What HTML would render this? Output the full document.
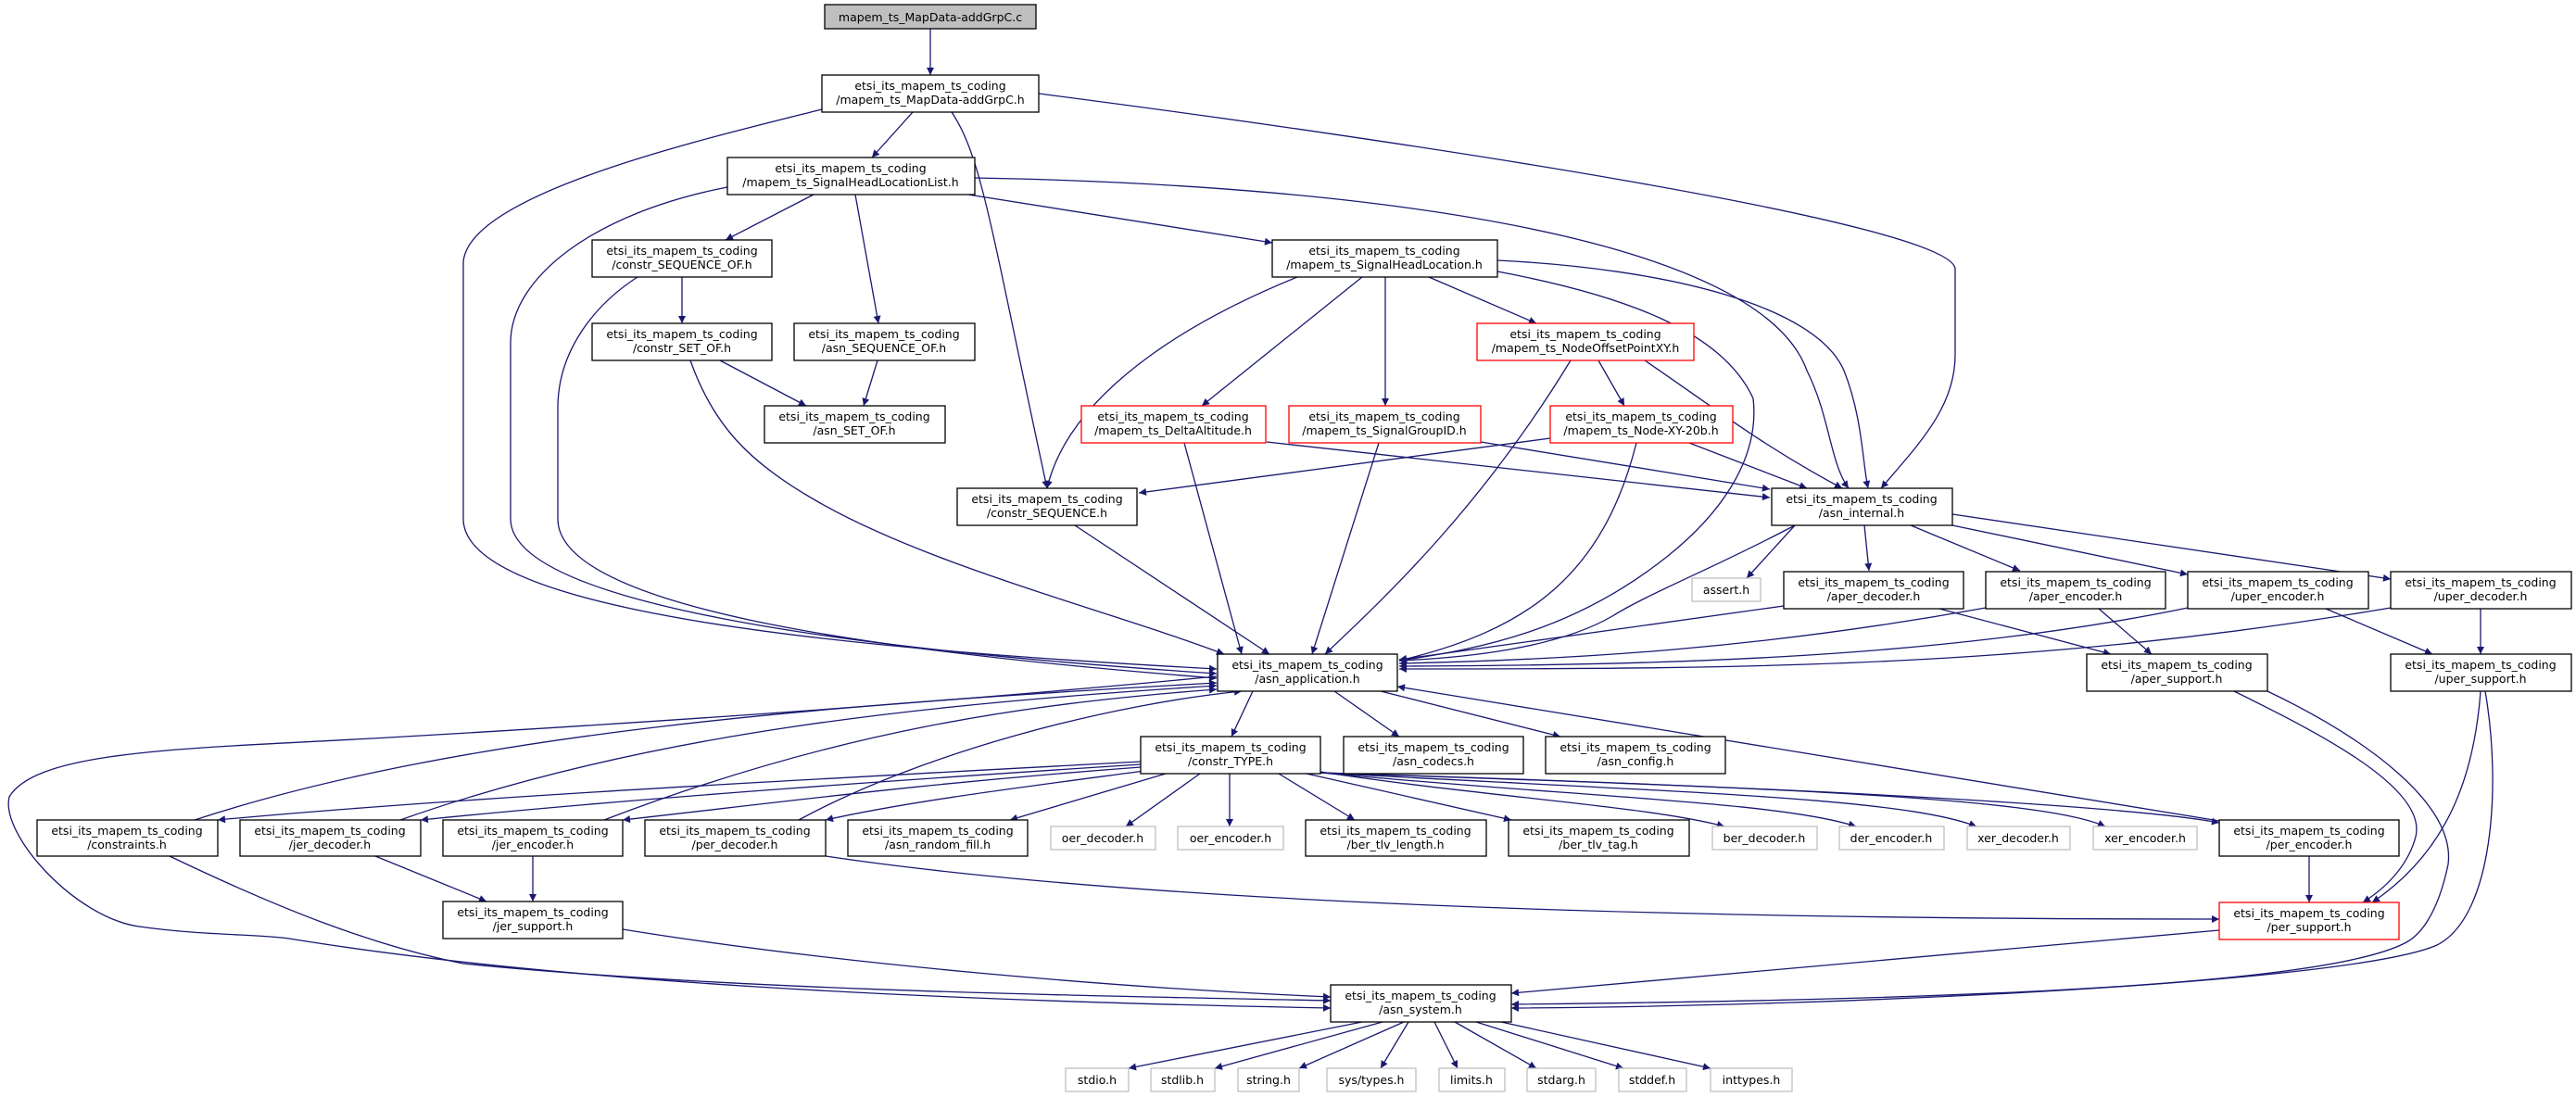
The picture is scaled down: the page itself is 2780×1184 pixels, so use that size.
<!DOCTYPE html>
<html><head><meta charset="utf-8"><style>
html,body{margin:0;padding:0;background:#fff}
svg{display:block}
text{font-family:"DejaVu Sans","Liberation Sans",sans-serif;font-size:12.5px;fill:#000;text-anchor:middle}
.e{fill:none;stroke:#191970;stroke-width:1.3}
.n{fill:#fff;stroke:#000;stroke-width:1.3}
.g{fill:#fff;stroke:#bfbfbf;stroke-width:1.3}
.r{fill:#fff;stroke:#ff0000;stroke-width:1.3}
</style></head><body>
<svg width="2780" height="1184" viewBox="0 0 2780 1184" xmlns="http://www.w3.org/2000/svg">
<defs><marker id="a" viewBox="0 0 10 10" refX="10" refY="5" markerWidth="11" markerHeight="8" markerUnits="userSpaceOnUse" orient="auto"><path d="M0,0L10,5L0,10z" fill="#191970"/></marker></defs>
<g class="e" marker-end="url(#a)">
<path d="M1004,31L1004,81"/>
<path d="M985,121L941,170"/>
<path d="M1027,121C1060,170 1070,250 1130,527"/>
<path d="M887,118C760,150 500,210 500,285L500,560C500,660 900,700 1313,722"/>
<path d="M1121,101C1500,150 2104,240 2110,290L2110,383C2110,440 2070,480 2030,527"/>
<path d="M878,210L783,259"/>
<path d="M923,210L948,349"/>
<path d="M1045,210L1373,262"/>
<path d="M1052,192C1500,200 1900,260 1950,400C1975,450 1975,500 1995,527"/>
<path d="M785,202C640,230 551,300 551,370L551,560C551,650 900,700 1313,727"/>
<path d="M736,299L736,349"/>
<path d="M688,299C640,330 602,380 602,440L602,560C602,650 900,700 1313,732"/>
<path d="M745,389C770,460 810,500 880,540C1000,610 1200,660 1321,706"/>
<path d="M777,389L870,438"/>
<path d="M947,389L932,438"/>
<path d="M1400,299C1250,360 1150,440 1130,527"/>
<path d="M1470,299L1297,438"/>
<path d="M1495,299L1495,438"/>
<path d="M1542,299L1658,349"/>
<path d="M1616,281C1800,290 1960,330 1990,400C2010,450 2010,500 2016,527"/>
<path d="M1616,293C1760,320 1860,360 1892,430C1900,500 1850,560 1800,600C1700,680 1600,700 1510,713"/>
<path d="M1725,389L1753,438"/>
<path d="M1775,389C1850,440 1900,480 1988,527"/>
<path d="M1695,389C1600,545 1500,640 1430,706"/>
<path d="M1673,473L1229,532"/>
<path d="M1823,478L1950,527"/>
<path d="M1766,478C1730,620 1650,680 1510,713"/>
<path d="M1367,477L1910,537"/>
<path d="M1278,478L1340,706"/>
<path d="M1598,477L1910,528"/>
<path d="M1488,478L1416,706"/>
<path d="M1160,567L1370,706"/>
<path d="M1937,567L1885,624"/>
<path d="M2012,567L2017,616"/>
<path d="M2062,567L2180,616"/>
<path d="M2107,567L2361,620"/>
<path d="M2107,555L2580,625"/>
<path d="M1937,567C1850,613 1780,640 1740,665C1680,700 1580,710 1510,713"/>
<path d="M1925,654L1510,712"/>
<path d="M2143,656C1900,700 1700,712 1510,716"/>
<path d="M2361,656C2100,710 1800,718 1510,719"/>
<path d="M2580,656C2200,720 1900,722 1510,722"/>
<path d="M2093,657L2278,706"/>
<path d="M2265,657L2322,706"/>
<path d="M2510,657L2625,706"/>
<path d="M2677,657L2677,706"/>
<path d="M2411,746C2500,790 2620,850 2607,903C2600,930 2580,955 2550,974"/>
<path d="M2447,746C2560,800 2650,870 2642,933C2630,990 2610,1010 2597,1017C2500,1070 2000,1080 1631,1084"/>
<path d="M2677,746C2670,840 2640,920 2560,974"/>
<path d="M2682,746C2700,850 2690,990 2630,1020C2540,1060 2000,1086 1631,1088"/>
<path d="M2492,924L2492,974"/>
<path d="M2395,886L1508,741"/>
<path d="M1352,746L1329,795"/>
<path d="M1440,746L1510,795"/>
<path d="M1490,746L1684,795"/>
<path d="M1231,822C900,840 500,860 235,885"/>
<path d="M1231,825C1000,840 700,860 454,885"/>
<path d="M1231,828C1000,845 850,865 672,885"/>
<path d="M1235,832C1100,850 980,865 891,885"/>
<path d="M1258,835L1090,885"/>
<path d="M1295,835L1215,892"/>
<path d="M1327,835L1327,892"/>
<path d="M1380,835L1462,885"/>
<path d="M1410,835L1631,885"/>
<path d="M1425,833C1600,860 1780,870 1861,892"/>
<path d="M1425,834C1700,860 1920,865 2003,892"/>
<path d="M1425,834C1800,855 2050,860 2133,892"/>
<path d="M1425,834C1900,850 2200,860 2272,892"/>
<path d="M1425,834C1950,850 2300,870 2395,888"/>
<path d="M210,885C500,790 900,760 1313,737"/>
<path d="M432,885C700,790 1000,760 1313,740"/>
<path d="M652,885C900,790 1100,760 1313,744"/>
<path d="M862,885C1000,810 1200,760 1340,746"/>
<path d="M405,924L525,973"/>
<path d="M575,924L575,973"/>
<path d="M183,924C300,980 400,1020 500,1040C800,1070 1200,1075 1436,1080"/>
<path d="M672,1003C900,1040 1200,1066 1436,1076"/>
<path d="M891,924C1300,985 2000,992 2395,992"/>
<path d="M2395,1004L1631,1072"/>
<path d="M1313,730C1000,760 700,780 402,797C200,808 40,810 10,860C0,900 80,990 150,1000C220,1010 280,1008 312,1013C600,1060 1000,1080 1436,1088"/>
<path d="M1470,1103L1218,1153"/>
<path d="M1492,1103L1311,1153"/>
<path d="M1515,1103L1402,1153"/>
<path d="M1520,1103L1490,1153"/>
<path d="M1548,1103L1573,1153"/>
<path d="M1570,1103L1658,1153"/>
<path d="M1593,1103L1752,1153"/>
<path d="M1620,1103L1846,1153"/>
</g>
<g>
<rect x="890" y="5" width="228" height="26" fill="#bfbfbf" stroke="#000" stroke-width="1.3"/><text x="1004" y="23">mapem_ts_MapData-addGrpC.c</text>
<rect class="n" x="887" y="81" width="234" height="40"/><text x="1004" y="97">etsi_its_mapem_ts_coding</text><text x="1004" y="112">/mapem_ts_MapData-addGrpC.h</text>
<rect class="n" x="785" y="170" width="267" height="40"/><text x="918" y="186">etsi_its_mapem_ts_coding</text><text x="918" y="201">/mapem_ts_SignalHeadLocationList.h</text>
<rect class="n" x="639" y="259" width="194" height="40"/><text x="736" y="275">etsi_its_mapem_ts_coding</text><text x="736" y="290">/constr_SEQUENCE_OF.h</text>
<rect class="n" x="639" y="349" width="194" height="40"/><text x="736" y="365">etsi_its_mapem_ts_coding</text><text x="736" y="380">/constr_SET_OF.h</text>
<rect class="n" x="857" y="349" width="195" height="40"/><text x="954" y="365">etsi_its_mapem_ts_coding</text><text x="954" y="380">/asn_SEQUENCE_OF.h</text>
<rect class="n" x="825" y="438" width="195" height="40"/><text x="922" y="454">etsi_its_mapem_ts_coding</text><text x="922" y="469">/asn_SET_OF.h</text>
<rect class="n" x="1373" y="259" width="243" height="40"/><text x="1494" y="275">etsi_its_mapem_ts_coding</text><text x="1494" y="290">/mapem_ts_SignalHeadLocation.h</text>
<rect class="r" x="1594" y="349" width="234" height="40"/><text x="1711" y="365">etsi_its_mapem_ts_coding</text><text x="1711" y="380">/mapem_ts_NodeOffsetPointXY.h</text>
<rect class="r" x="1167" y="438" width="199" height="40"/><text x="1266" y="454">etsi_its_mapem_ts_coding</text><text x="1266" y="469">/mapem_ts_DeltaAltitude.h</text>
<rect class="r" x="1391" y="438" width="207" height="40"/><text x="1494" y="454">etsi_its_mapem_ts_coding</text><text x="1494" y="469">/mapem_ts_SignalGroupID.h</text>
<rect class="r" x="1673" y="438" width="197" height="40"/><text x="1771" y="454">etsi_its_mapem_ts_coding</text><text x="1771" y="469">/mapem_ts_Node-XY-20b.h</text>
<rect class="n" x="1033" y="527" width="194" height="40"/><text x="1130" y="543">etsi_its_mapem_ts_coding</text><text x="1130" y="558">/constr_SEQUENCE.h</text>
<rect class="n" x="1912" y="527" width="195" height="40"/><text x="2009" y="543">etsi_its_mapem_ts_coding</text><text x="2009" y="558">/asn_internal.h</text>
<rect class="n" x="1314" y="706" width="194" height="40"/><text x="1411" y="722">etsi_its_mapem_ts_coding</text><text x="1411" y="737">/asn_application.h</text>
<rect class="g" x="1826" y="624" width="74" height="25"/><text x="1863" y="641">assert.h</text>
<rect class="n" x="1925" y="617" width="194" height="40"/><text x="2022" y="633">etsi_its_mapem_ts_coding</text><text x="2022" y="648">/aper_decoder.h</text>
<rect class="n" x="2143" y="617" width="194" height="40"/><text x="2240" y="633">etsi_its_mapem_ts_coding</text><text x="2240" y="648">/aper_encoder.h</text>
<rect class="n" x="2361" y="617" width="195" height="40"/><text x="2458" y="633">etsi_its_mapem_ts_coding</text><text x="2458" y="648">/uper_encoder.h</text>
<rect class="n" x="2580" y="617" width="195" height="40"/><text x="2677" y="633">etsi_its_mapem_ts_coding</text><text x="2677" y="648">/uper_decoder.h</text>
<rect class="n" x="2252" y="706" width="195" height="40"/><text x="2349" y="722">etsi_its_mapem_ts_coding</text><text x="2349" y="737">/aper_support.h</text>
<rect class="n" x="2580" y="706" width="195" height="40"/><text x="2677" y="722">etsi_its_mapem_ts_coding</text><text x="2677" y="737">/uper_support.h</text>
<rect class="n" x="1231" y="795" width="194" height="40"/><text x="1328" y="811">etsi_its_mapem_ts_coding</text><text x="1328" y="826">/constr_TYPE.h</text>
<rect class="n" x="1450" y="795" width="194" height="40"/><text x="1547" y="811">etsi_its_mapem_ts_coding</text><text x="1547" y="826">/asn_codecs.h</text>
<rect class="n" x="1668" y="795" width="194" height="40"/><text x="1765" y="811">etsi_its_mapem_ts_coding</text><text x="1765" y="826">/asn_config.h</text>
<rect class="n" x="40" y="885" width="195" height="39"/><text x="137" y="901">etsi_its_mapem_ts_coding</text><text x="137" y="916">/constraints.h</text>
<rect class="n" x="259" y="885" width="195" height="39"/><text x="356" y="901">etsi_its_mapem_ts_coding</text><text x="356" y="916">/jer_decoder.h</text>
<rect class="n" x="478" y="885" width="194" height="39"/><text x="575" y="901">etsi_its_mapem_ts_coding</text><text x="575" y="916">/jer_encoder.h</text>
<rect class="n" x="696" y="885" width="195" height="39"/><text x="793" y="901">etsi_its_mapem_ts_coding</text><text x="793" y="916">/per_decoder.h</text>
<rect class="n" x="915" y="885" width="194" height="39"/><text x="1012" y="901">etsi_its_mapem_ts_coding</text><text x="1012" y="916">/asn_random_fill.h</text>
<rect class="g" x="1134" y="892" width="113" height="25"/><text x="1190" y="909">oer_decoder.h</text>
<rect class="g" x="1271" y="892" width="114" height="25"/><text x="1328" y="909">oer_encoder.h</text>
<rect class="n" x="1409" y="885" width="195" height="39"/><text x="1506" y="901">etsi_its_mapem_ts_coding</text><text x="1506" y="916">/ber_tlv_length.h</text>
<rect class="n" x="1628" y="885" width="195" height="39"/><text x="1725" y="901">etsi_its_mapem_ts_coding</text><text x="1725" y="916">/ber_tlv_tag.h</text>
<rect class="g" x="1848" y="892" width="113" height="25"/><text x="1904" y="909">ber_decoder.h</text>
<rect class="g" x="1985" y="892" width="113" height="25"/><text x="2041" y="909">der_encoder.h</text>
<rect class="g" x="2123" y="892" width="111" height="25"/><text x="2178" y="909">xer_decoder.h</text>
<rect class="g" x="2259" y="892" width="112" height="25"/><text x="2315" y="909">xer_encoder.h</text>
<rect class="n" x="2395" y="885" width="194" height="39"/><text x="2492" y="901">etsi_its_mapem_ts_coding</text><text x="2492" y="916">/per_encoder.h</text>
<rect class="r" x="2395" y="974" width="194" height="40"/><text x="2492" y="990">etsi_its_mapem_ts_coding</text><text x="2492" y="1005">/per_support.h</text>
<rect class="n" x="478" y="973" width="194" height="40"/><text x="575" y="989">etsi_its_mapem_ts_coding</text><text x="575" y="1004">/jer_support.h</text>
<rect class="n" x="1436" y="1063" width="195" height="40"/><text x="1533" y="1079">etsi_its_mapem_ts_coding</text><text x="1533" y="1094">/asn_system.h</text>
<rect class="g" x="1150" y="1153" width="68" height="25"/><text x="1184" y="1170">stdio.h</text>
<rect class="g" x="1242" y="1153" width="69" height="25"/><text x="1276" y="1170">stdlib.h</text>
<rect class="g" x="1336" y="1153" width="66" height="25"/><text x="1369" y="1170">string.h</text>
<rect class="g" x="1432" y="1153" width="96" height="25"/><text x="1480" y="1170">sys/types.h</text>
<rect class="g" x="1553" y="1153" width="71" height="25"/><text x="1588" y="1170">limits.h</text>
<rect class="g" x="1648" y="1153" width="74" height="25"/><text x="1685" y="1170">stdarg.h</text>
<rect class="g" x="1747" y="1153" width="73" height="25"/><text x="1783" y="1170">stddef.h</text>
<rect class="g" x="1846" y="1153" width="88" height="25"/><text x="1890" y="1170">inttypes.h</text>
</g>
</svg>
</body></html>
